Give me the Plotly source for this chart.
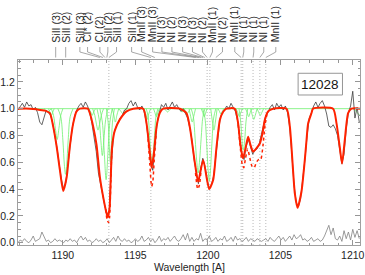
import plotly.graph_objects as go

# ---------------- data ----------------
# observed spectrum sampled every 0.15 A starting at 1186.90 A
wave_start = 1186.90
wave_step = 0.15
flux_obs = [
    0.99, 1.02, 1.04, 1.01, 1.05, 1.02, 1.03, 0.99, 1.01, 0.97,
    0.90, 0.88, 0.93, 0.99, 0.97, 0.95, 0.89, 0.80, 0.70, 0.58,
    0.47, 0.40, 0.45, 0.59, 0.74, 0.86, 0.94, 0.99, 1.02, 1.04,
    1.01, 1.05, 1.02, 0.97, 0.89, 0.80, 0.68, 0.52, 0.43, 0.35,
    0.27, 0.21, 0.24, 0.60, 0.81, 0.86, 0.90, 0.93, 0.95, 0.99,
    1.00, 1.04, 1.06, 1.02, 1.05, 1.01, 0.99, 1.02, 0.98, 0.90,
    0.76, 0.60, 0.54, 0.72, 0.89, 0.97, 1.03, 1.01, 1.04, 0.99,
    1.02, 1.05, 1.01, 1.03, 1.00, 0.98, 1.00, 0.96, 0.93, 0.86,
    0.77, 0.62, 0.52, 0.44, 0.55, 0.63, 0.57, 0.47, 0.41, 0.43,
    0.50, 0.66, 0.82, 0.93, 0.97, 0.99, 1.02, 1.00, 1.04, 1.01,
    0.98, 0.91, 0.77, 0.66, 0.62, 0.72, 0.77, 0.71, 0.66, 0.69,
    0.70, 0.74, 0.80, 0.88, 0.95, 0.97, 1.01, 1.03, 0.99, 1.04,
    1.01, 1.03, 0.99, 1.02, 0.97, 0.86, 0.66, 0.43, 0.30, 0.27,
    0.33, 0.46, 0.62, 0.80, 0.93, 0.97, 1.02, 1.05, 1.01, 1.04,
    1.06, 1.02, 0.96, 0.87, 0.86, 0.88, 0.85, 0.80, 0.70, 0.59,
    0.66, 0.85, 0.97, 1.02, 1.13, 0.93, 1.01, 0.90,
]
err_obs = [
    0.00, 0.02, 0.01, 0.03, 0.01, 0.00, 0.02, 0.05, 0.01, 0.02,
    0.03, 0.08, 0.04, 0.01, 0.02, 0.00, 0.01, 0.03, 0.01, 0.02,
    0.01, 0.00, 0.02, 0.01, 0.03, 0.01, 0.02, 0.00, 0.03, 0.05,
    0.02, 0.04, 0.01, 0.02, 0.00, 0.01, 0.03, 0.01, 0.02, 0.00,
    0.01, 0.03, 0.00, 0.02, 0.04, 0.01, 0.05, 0.02, 0.01, 0.03,
    0.01, 0.02, 0.00, 0.01, 0.03, 0.01, 0.02, 0.05, 0.01, 0.02,
    0.04, 0.01, 0.03, 0.00, 0.02, 0.05, 0.01, 0.03, 0.02, 0.04,
    0.01, 0.03, 0.05, 0.02, 0.01, 0.03, 0.06, 0.02, 0.07, 0.01,
    0.04, 0.01, 0.03, 0.02, 0.07, 0.01, 0.03, 0.02, 0.05, 0.01,
    0.02, 0.04, 0.01, 0.03, 0.02, 0.05, 0.01, 0.02, 0.04, 0.01,
    0.05, 0.02, 0.03, 0.01, 0.02, 0.04, 0.01, 0.03, 0.02, 0.01,
    0.03, 0.02, 0.01, 0.02, 0.03, 0.01, 0.04, 0.02, 0.01, 0.03,
    0.05, 0.02, 0.04, 0.01, 0.03, 0.05, 0.02, 0.06, 0.03, 0.04,
    0.06, 0.02, 0.03, 0.01, 0.02, 0.04, 0.01, 0.02, 0.03, 0.01,
    0.02, 0.05, 0.09, 0.13, 0.06, 0.11, 0.03, 0.02, 0.05, 0.01,
    0.09, 0.03, 0.08, 0.02, 0.10, 0.04, 0.09, 0.03,
]
wave_obs = [round(wave_start + i * wave_step, 2) for i in range(len(flux_obs))]

# total model (solid red)
model_wave = [1186.90, 1187.72, 1188.19, 1188.76, 1189.10, 1189.33, 1189.57, 1189.79, 1190.02,
              1190.26, 1190.48, 1190.71, 1190.94, 1191.17, 1191.72, 1191.86, 1192.09, 1192.32,
              1192.55, 1192.78, 1193.01, 1193.10, 1193.22, 1193.30, 1193.38, 1193.50, 1193.59,
              1193.93, 1194.39, 1194.85, 1195.54, 1195.77, 1196.00, 1196.12, 1196.28, 1196.46,
              1196.69, 1196.92, 1198.07, 1198.53, 1198.76, 1199.10, 1199.33, 1199.68, 1200.09,
              1200.37, 1200.60, 1200.83, 1201.06, 1201.29, 1201.86, 1202.09, 1202.21, 1202.32,
              1202.43, 1202.62, 1202.78, 1202.94, 1203.12, 1203.36, 1203.59, 1203.77, 1203.93,
              1204.16, 1204.50, 1205.43, 1205.66, 1205.77, 1205.88, 1206.00, 1206.19, 1206.46,
              1206.69, 1206.81, 1206.92, 1207.15, 1207.26, 1208.64, 1208.88, 1209.10, 1209.26,
              1209.45, 1209.68, 1209.91, 1210.50]
model_flux = [1.0, 1.0, 0.995, 0.985, 0.966, 0.866, 0.716, 0.543, 0.386,
              0.49, 0.72, 0.89, 0.98, 1.0, 1.0, 0.966, 0.866, 0.73,
              0.49, 0.34, 0.22, 0.19, 0.26, 0.48, 0.70, 0.80, 0.84,
              0.92, 0.98, 1.0, 1.0, 0.89, 0.67, 0.56, 0.67, 0.866,
              0.97, 1.0, 1.0, 0.965, 0.86, 0.60, 0.455, 0.617, 0.40,
              0.47, 0.716, 0.915, 0.977, 1.0, 1.0, 0.89, 0.766, 0.68,
              0.63, 0.716, 0.79, 0.73, 0.68, 0.706, 0.74, 0.816, 0.916,
              0.98, 1.0, 1.0, 0.866, 0.716, 0.54, 0.37, 0.26, 0.38,
              0.617, 0.766, 0.89, 0.966, 1.0, 1.0, 0.89, 0.716, 0.59,
              0.766, 0.966, 1.0, 1.0]

# alternative model (dotted red), only where it departs from the solid one
alt_wave = [1192.95, 1193.05, 1193.15, 1193.22, 1193.30, 1193.38, None,
            1195.85, 1196.00, 1196.12, 1196.20, 1196.30, 1196.45, None,
            1199.15, 1199.30, 1199.42, 1199.55, None,
            1202.10, 1202.25, 1202.38, 1202.48, 1202.60, 1202.75, 1202.90, 1203.05,
            1203.20, 1203.35, 1203.50, 1203.65, 1203.80, 1203.95, 1204.10]
alt_flux = [0.25, 0.17, 0.15, 0.19, 0.45, 0.72, None,
            0.82, 0.58, 0.42, 0.45, 0.62, 0.84, None,
            0.52, 0.40, 0.43, 0.57, None,
            0.88, 0.70, 0.58, 0.56, 0.63, 0.70, 0.63, 0.57,
            0.56, 0.60, 0.62, 0.62, 0.72, 0.88, 0.97]

# individual velocity components (green)
comp_waves = [
    [1188.70, 1188.85, 1188.95, 1189.05, 1189.20],
    [1189.00, 1189.10, 1189.20, 1189.30, 1189.40],
    [1189.20, 1189.35, 1189.48, 1189.60, 1189.72, 1189.85, 1190.00],
    [1189.65, 1189.85, 1190.00, 1190.10, 1190.18, 1190.26, 1190.36, 1190.50, 1190.70],
    [1191.80, 1191.92, 1192.02, 1192.12, 1192.25],
    [1192.05, 1192.20, 1192.32, 1192.42, 1192.52, 1192.65, 1192.80],
    [1192.35, 1192.50, 1192.62, 1192.72, 1192.82, 1192.95, 1193.10],
    [1192.55, 1192.72, 1192.86, 1192.98, 1193.10, 1193.24, 1193.40],
    [1193.00, 1193.12, 1193.20, 1193.27, 1193.34, 1193.42, 1193.55],
    [1193.40, 1193.52, 1193.62, 1193.72, 1193.85],
    [1193.85, 1194.00, 1194.12, 1194.25, 1194.40],
    [1195.60, 1195.72, 1195.82, 1195.92, 1196.05],
    [1195.75, 1195.88, 1195.98, 1196.08, 1196.15, 1196.22, 1196.32, 1196.42, 1196.55],
    [1196.25, 1196.35, 1196.45, 1196.55, 1196.65],
    [1197.00, 1197.12, 1197.22, 1197.32, 1197.45],
    [1198.00, 1198.12, 1198.22, 1198.32, 1198.45],
    [1198.35, 1198.48, 1198.58, 1198.68, 1198.80],
    [1198.70, 1198.82, 1198.92, 1199.02, 1199.15],
    [1198.85, 1199.00, 1199.12, 1199.24, 1199.33, 1199.42, 1199.54, 1199.66, 1199.80],
    [1199.55, 1199.65, 1199.75, 1199.85, 1199.95],
    [1199.65, 1199.80, 1199.92, 1200.02, 1200.10, 1200.18, 1200.28, 1200.40, 1200.55],
    [1200.20, 1200.32, 1200.42, 1200.52, 1200.64],
    [1200.70, 1200.80, 1200.90, 1201.00, 1201.10],
    [1201.95, 1202.07, 1202.17, 1202.27, 1202.40],
    [1202.15, 1202.27, 1202.36, 1202.45, 1202.54, 1202.63, 1202.75],
    [1202.60, 1202.72, 1202.82, 1202.92, 1203.05],
    [1202.95, 1203.07, 1203.17, 1203.27, 1203.40],
    [1203.40, 1203.52, 1203.62, 1203.72, 1203.85],
    [1210.00, 1210.15, 1210.30, 1210.50],
]
comp_fluxes = [
    [1.0, 0.985, 0.975, 0.985, 1.0],
    [1.0, 0.975, 0.95, 0.975, 1.0],
    [1.0, 0.95, 0.85, 0.77, 0.85, 0.95, 1.0],
    [1.0, 0.94, 0.76, 0.58, 0.51, 0.58, 0.76, 0.94, 1.0],
    [1.0, 0.975, 0.95, 0.975, 1.0],
    [1.0, 0.95, 0.88, 0.84, 0.88, 0.95, 1.0],
    [1.0, 0.92, 0.76, 0.65, 0.76, 0.92, 1.0],
    [1.0, 0.90, 0.66, 0.47, 0.66, 0.90, 1.0],
    [1.0, 0.90, 0.72, 0.60, 0.72, 0.90, 1.0],
    [1.0, 0.95, 0.90, 0.95, 1.0],
    [1.0, 0.98, 0.965, 0.98, 1.0],
    [1.0, 0.96, 0.92, 0.96, 1.0],
    [1.0, 0.94, 0.80, 0.65, 0.60, 0.65, 0.80, 0.94, 1.0],
    [1.0, 0.97, 0.94, 0.97, 1.0],
    [1.0, 0.985, 0.975, 0.985, 1.0],
    [1.0, 0.985, 0.975, 0.985, 1.0],
    [1.0, 0.98, 0.965, 0.98, 1.0],
    [1.0, 0.94, 0.90, 0.94, 1.0],
    [1.0, 0.94, 0.78, 0.60, 0.52, 0.60, 0.78, 0.94, 1.0],
    [1.0, 0.97, 0.94, 0.97, 1.0],
    [1.0, 0.93, 0.74, 0.54, 0.46, 0.54, 0.74, 0.93, 1.0],
    [1.0, 0.90, 0.84, 0.90, 1.0],
    [1.0, 0.98, 0.96, 0.98, 1.0],
    [1.0, 0.97, 0.94, 0.97, 1.0],
    [1.0, 0.90, 0.76, 0.69, 0.76, 0.90, 1.0],
    [1.0, 0.97, 0.94, 0.97, 1.0],
    [1.0, 0.95, 0.92, 0.95, 1.0],
    [1.0, 0.97, 0.95, 0.97, 1.0],
    [1.0, 0.99, 0.97, 0.95],
]

# line identifications at the top
line_labels = ["SiII (3)", "SiII (2)", "SiII (3)", "CI* (2)", "CI (2)", "SiII (2)", "SiII (1)",
               "SiII (1)", "MnII (3)", "MnII (3)", "NI (3)", "NI (2)", "NI (3)", "NI (3)",
               "NI (2)", "MnII (1)", "NI (2)", "MnII (1)", "NI (1)", "NI (1)", "NI (1)", "MnII (1)"]
label_wave = [1189.50, 1190.19, 1191.17, 1191.70, 1192.55, 1193.10, 1193.70,
              1194.74, 1195.43, 1196.19, 1196.83, 1197.52, 1198.26, 1198.94,
              1199.63, 1200.32, 1201.01, 1201.86, 1202.48, 1203.17, 1203.86, 1204.69]
target_wave = [1189.50, 1190.19, 1192.55, 1192.76, 1192.90, 1193.03, 1193.17,
               1196.07, 1196.34, 1199.17, 1199.38, 1199.52, 1199.66, 1199.79,
               1199.95, 1200.14, 1200.55, 1202.30, 1202.41, 1203.12, 1203.59, 1204.00]

# dotted vertical markers
marker_wave = [1193.17, 1196.07, 1199.95, 1200.14, 1202.30, 1202.41, 1203.12, 1203.59, 1204.00]

x_ticks = [1190, 1195, 1200, 1205, 1210]
y_ticks = [0.0, 0.2, 0.4, 0.6, 0.8, 1.0, 1.2]
box_text = "12028"

# ---------------- figure ----------------
GREEN = "rgb(110,240,110)"
RED = "rgb(255,34,0)"
FONT = "Liberation Sans, Arial, Helvetica, sans-serif"

fig = go.Figure()

fig.add_trace(go.Scatter(x=[1186.9, 1210.5], y=[1.0, 1.0], mode="lines",
                         line=dict(color=GREEN, width=0.8), hoverinfo="skip"))
for cw, cf in zip(comp_waves, comp_fluxes):
    fig.add_trace(go.Scatter(x=cw, y=cf, mode="lines",
                             line=dict(color=GREEN, width=0.8, shape="spline", smoothing=1.0),
                             hoverinfo="skip"))

fig.add_trace(go.Scatter(x=wave_obs, y=err_obs, mode="lines",
                         line=dict(color="rgb(130,130,130)", width=0.8)))
fig.add_trace(go.Scatter(x=wave_obs, y=flux_obs, mode="lines",
                         line=dict(color="rgb(60,60,60)", width=0.8)))
fig.add_trace(go.Scatter(x=model_wave, y=model_flux, mode="lines",
                         line=dict(color=RED, width=2.0, shape="spline", smoothing=0.6)))
fig.add_trace(go.Scatter(x=alt_wave, y=alt_flux, mode="lines", connectgaps=False,
                         line=dict(color=RED, width=1.5, dash="dot", shape="spline", smoothing=0.6)))

shapes = []
for w in marker_wave:
    shapes.append(dict(type="line", xref="x", yref="paper", x0=w, x1=w, y0=0, y1=1,
                       line=dict(color="rgb(185,185,185)", width=1, dash="1px,2px"), layer="below"))

# connectors between labels and line positions
y_top, y_bend, y_end = 1.0703, 1.0432, 1.0135
for lw, tw in zip(label_wave, target_wave):
    shapes.append(dict(type="path", xref="x", yref="paper",
                       path=f"M {lw},{y_top} L {lw},{y_bend} L {tw},{y_end}",
                       line=dict(color="rgb(130,130,130)", width=0.7)))

# label box
shapes.append(dict(type="rect", xref="x", yref="y", x0=1206.23, x1=1209.29, y0=1.102, y1=1.264,
                   line=dict(color="rgb(150,150,150)", width=1), fillcolor="white", layer="above"))

annotations = []
for txt, lw in zip(line_labels, label_wave):
    annotations.append(dict(x=lw, y=1.0838, xref="x", yref="paper", text=txt, showarrow=False,
                            textangle=-90, xanchor="center", yanchor="bottom",
                            font=dict(family=FONT, size=10.5, color="rgb(40,40,40)")))
annotations.append(dict(x=1207.76, y=1.184, xref="x", yref="y", text=box_text, showarrow=False,
                        xanchor="center", yanchor="middle",
                        font=dict(family=FONT, size=13.5, color="rgb(20,20,20)")))
annotations.append(dict(x=0.5, y=-0.117, xref="paper", yref="paper", text="Wavelength [A]",
                        showarrow=False, xanchor="center", yanchor="middle",
                        font=dict(family=FONT, size=10.5, color="rgb(30,30,30)")))

fig.update_layout(
    width=365, height=275,
    margin=dict(l=18, r=5, t=60, b=30),
    plot_bgcolor="white", paper_bgcolor="white",
    showlegend=False,
    shapes=shapes, annotations=annotations,
    xaxis=dict(range=[1186.9, 1210.5], tickvals=x_ticks, ticks="inside", ticklen=5,
               tickcolor="rgb(150,150,150)", showline=True, linecolor="rgb(160,160,160)",
               mirror="ticks", showgrid=False, zeroline=False, automargin=False,
               tickfont=dict(family=FONT, size=10.5, color="rgb(30,30,30)"),
               minor=dict(dtick=1, ticks="inside", ticklen=2.5, tickcolor="rgb(150,150,150)",
                          showgrid=False)),
    yaxis=dict(range=[-0.017, 1.363], tickvals=y_ticks, tickformat=".1f", ticks="inside",
               ticklen=5, tickcolor="rgb(150,150,150)", showline=True,
               linecolor="rgb(160,160,160)", mirror="ticks", showgrid=False, zeroline=False,
               automargin=False,
               tickfont=dict(family=FONT, size=10.5, color="rgb(30,30,30)"),
               minor=dict(dtick=0.05, ticks="inside", ticklen=2.5, tickcolor="rgb(150,150,150)",
                          showgrid=False)),
)

fig.write_html("out.html", config={"displayModeBar": False},
               post_script="document.body.style.margin='0';")
